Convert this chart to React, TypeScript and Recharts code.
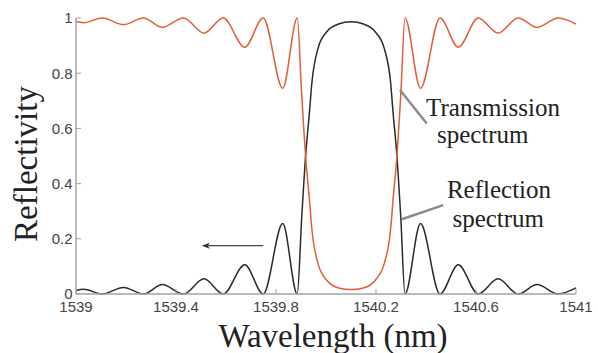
import React from 'react';
import { LineChart, Line, XAxis, YAxis, ReferenceLine, ReferenceDot } from 'recharts';

const wavelengths = [
  1539.0, 1539.03, 1539.105, 1539.19, 1539.27, 1539.345, 1539.43, 1539.512, 1539.589, 1539.675,
  1539.749, 1539.827, 1539.885, 1539.903, 1539.92, 1539.933, 1539.944, 1539.968, 1540.003, 1540.05,
  1540.1, 1540.15, 1540.197, 1540.233, 1540.258, 1540.269, 1540.282, 1540.299, 1540.316, 1540.378,
  1540.456, 1540.529, 1540.609, 1540.688, 1540.769, 1540.844, 1540.929, 1541.0,
];

const reflectionSpectrum = [
  0.013, 0.017, 0.0, 0.024, 0.0, 0.034, 0.0, 0.055, 0.0, 0.106,
  0.0, 0.255, 0.0, 0.28, 0.52, 0.65, 0.77, 0.89, 0.95, 0.978,
  0.986, 0.978, 0.95, 0.89, 0.77, 0.65, 0.52, 0.28, 0.0, 0.255,
  0.0, 0.106, 0.0, 0.055, 0.0, 0.034, 0.0, 0.022,
];

const transmissionSpectrum = [
  0.987, 0.983, 1.0, 0.976, 1.0, 0.966, 1.0, 0.945, 1.0, 0.894,
  1.0, 0.745, 1.0, 0.72, 0.48, 0.35, 0.23, 0.11, 0.05, 0.022,
  0.016, 0.022, 0.05, 0.11, 0.23, 0.35, 0.48, 0.72, 1.0, 0.745,
  1.0, 0.894, 1.0, 0.945, 1.0, 0.966, 1.0, 0.978,
];

const xTicks = [1539, 1539.4, 1539.8, 1540.2, 1540.6, 1541];
const yTicks = [0, 0.2, 0.4, 0.6, 0.8, 1];

const annotationTexts = [
  { text: 'Transmission', x: 1540.668, y: 0.645 },
  { text: 'spectrum', x: 1540.627, y: 0.546 },
  { text: 'Reflection', x: 1540.692, y: 0.347 },
  { text: 'spectrum', x: 1540.689, y: 0.244 },
];

const data = wavelengths.map((w, i) => ({
  w,
  refl: reflectionSpectrum[i],
  trans: transmissionSpectrum[i],
}));

const axisColor = '#a3a3a3';
const tickStyle = { fill: '#444', fontSize: 15, fontFamily: '"Liberation Sans", Arial, sans-serif' };
const serif = '"Liberation Serif", "Times New Roman", serif';

const ArrowShape = (p: any) => {
  const { x1, y1, x2, y2 } = p;
  return (
    <g>
      <line x1={x1} y1={y1} x2={x2 + 6} y2={y2} stroke="#444" strokeWidth={1.2} />
      <polygon points={`${x2},${y2} ${x2 + 8},${y2 - 3} ${x2 + 6},${y2} ${x2 + 8},${y2 + 3}`} fill="#333" />
    </g>
  );
};

export default function App() {
  return (
    <div style={{ position: 'absolute', left: 0, top: 0, background: '#fff' }}>
      <LineChart
        width={598}
        height={353}
        data={data}
        margin={{ top: 18, right: 22, bottom: 0, left: 0 }}
      >
        <XAxis
          dataKey="w"
          type="number"
          domain={[1539, 1541]}
          ticks={xTicks}
          height={59}
          tickSize={-5}
          tickMargin={12}
          tick={tickStyle}
          axisLine={{ stroke: axisColor, strokeWidth: 1.5 }}
          tickLine={{ stroke: axisColor, strokeWidth: 1 }}
          label={(props: any) => {
            const vb = props.viewBox;
            return (
              <text
                x={vb.x + vb.width / 2 + 7}
                y={vb.y + 52.7}
                textAnchor="middle"
                fontFamily={serif}
                fontSize={33}
                fill="#222"
              >
                Wavelength (nm)
              </text>
            );
          }}
        />
        <XAxis
          xAxisId="top"
          dataKey="w"
          type="number"
          orientation="top"
          domain={[1539, 1541]}
          ticks={xTicks}
          height={0}
          tickSize={-5}
          tickFormatter={() => ''}
          axisLine={{ stroke: axisColor, strokeWidth: 1.5 }}
          tickLine={{ stroke: axisColor, strokeWidth: 1 }}
        />
        <YAxis
          type="number"
          domain={[0, 1]}
          ticks={yTicks}
          width={76}
          tickSize={-5}
          tickMargin={8.5}
          tick={tickStyle}
          axisLine={{ stroke: axisColor, strokeWidth: 1.5 }}
          tickLine={{ stroke: axisColor, strokeWidth: 1 }}
          label={(props: any) => {
            const vb = props.viewBox;
            const cx = vb.x + 36.7;
            const cy = vb.y + vb.height / 2 + 8;
            return (
              <text
                x={cx}
                y={cy}
                transform={`rotate(-90, ${cx}, ${cy})`}
                textAnchor="middle"
                fontFamily={serif}
                fontSize={33}
                fill="#222"
              >
                Reflectivity
              </text>
            );
          }}
        />
        <YAxis
          yAxisId="right"
          type="number"
          orientation="right"
          domain={[0, 1]}
          ticks={yTicks}
          width={0}
          tickSize={-5}
          tickFormatter={() => ''}
          axisLine={{ stroke: axisColor, strokeWidth: 1.5 }}
          tickLine={{ stroke: axisColor, strokeWidth: 1 }}
        />
        <Line
          type="monotone"
          dataKey="refl"
          stroke="#2a2a2a"
          strokeWidth={1.5}
          dot={false}
          activeDot={false}
          isAnimationActive={false}
        />
        <Line
          type="monotone"
          dataKey="trans"
          stroke="#e45c3a"
          strokeWidth={1.5}
          dot={false}
          activeDot={false}
          isAnimationActive={false}
        />
        <ReferenceLine
          segment={[{ x: 1540.296, y: 0.739 }, { x: 1540.403, y: 0.618 }]}
          stroke="#8c8c8c"
          strokeWidth={2.5}
        />
        <ReferenceLine
          segment={[{ x: 1540.303, y: 0.271 }, { x: 1540.469, y: 0.322 }]}
          stroke="#8c8c8c"
          strokeWidth={2.5}
        />
        <ReferenceLine
          segment={[{ x: 1539.749, y: 0.175 }, { x: 1539.503, y: 0.175 }]}
          shape={ArrowShape}
        />
        {annotationTexts.map((a, i) => (
          <ReferenceDot
            key={i}
            x={a.x}
            y={a.y}
            r={1}
            fill="none"
            stroke="none"
            label={(props: any) => {
              const vb = props.viewBox;
              return (
                <text
                  x={vb.x + vb.width / 2}
                  y={vb.y + vb.height / 2}
                  textAnchor="middle"
                  fontFamily={serif}
                  fontSize={25}
                  fill="#222"
                >
                  {a.text}
                </text>
              );
            }}
          />
        ))}
      </LineChart>
    </div>
  );
}
